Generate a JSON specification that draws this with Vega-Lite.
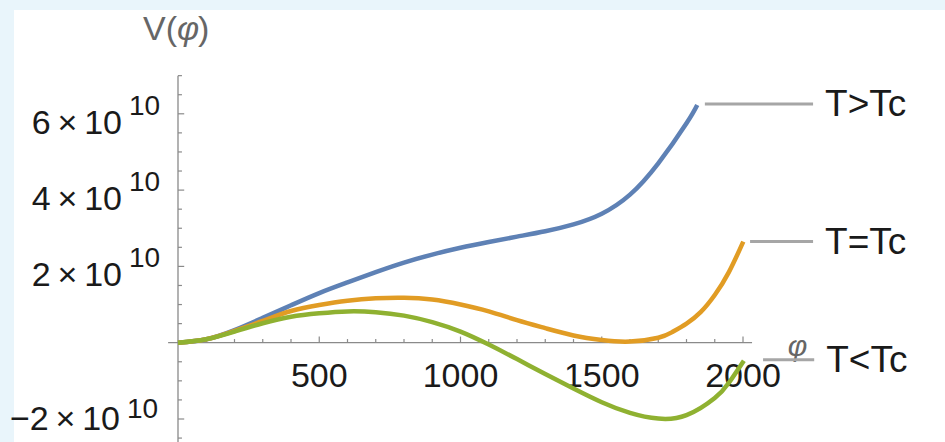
{
  "$schema": "https://vega.github.io/schema/vega-lite/v6.json",
  "width": 931,
  "height": 432,
  "autosize": {"type": "none"},
  "padding": {"left": 14, "top": 10, "right": 0, "bottom": 0},
  "background": "#e9f5fb",
  "config": {
    "view": {"fill": "white", "stroke": null},
    "font": "Liberation Sans"
  },
  "datasets": {
    "curves": [
      {"series": "T>Tc", "phi": 0, "V": 0},
      {"series": "T>Tc", "phi": 100, "V": 0.09e10},
      {"series": "T>Tc", "phi": 200, "V": 0.33e10},
      {"series": "T>Tc", "phi": 300, "V": 0.65e10},
      {"series": "T>Tc", "phi": 400, "V": 0.98e10},
      {"series": "T>Tc", "phi": 500, "V": 1.30e10},
      {"series": "T>Tc", "phi": 600, "V": 1.58e10},
      {"series": "T>Tc", "phi": 700, "V": 1.85e10},
      {"series": "T>Tc", "phi": 800, "V": 2.10e10},
      {"series": "T>Tc", "phi": 900, "V": 2.31e10},
      {"series": "T>Tc", "phi": 1000, "V": 2.49e10},
      {"series": "T>Tc", "phi": 1100, "V": 2.64e10},
      {"series": "T>Tc", "phi": 1200, "V": 2.78e10},
      {"series": "T>Tc", "phi": 1300, "V": 2.92e10},
      {"series": "T>Tc", "phi": 1400, "V": 3.10e10},
      {"series": "T>Tc", "phi": 1500, "V": 3.38e10},
      {"series": "T>Tc", "phi": 1600, "V": 3.88e10},
      {"series": "T>Tc", "phi": 1700, "V": 4.70e10},
      {"series": "T>Tc", "phi": 1800, "V": 5.75e10},
      {"series": "T>Tc", "phi": 1838, "V": 6.23e10},
      {"series": "T=Tc", "phi": 0, "V": 0},
      {"series": "T=Tc", "phi": 100, "V": 0.09e10},
      {"series": "T=Tc", "phi": 200, "V": 0.31e10},
      {"series": "T=Tc", "phi": 300, "V": 0.57e10},
      {"series": "T=Tc", "phi": 400, "V": 0.83e10},
      {"series": "T=Tc", "phi": 500, "V": 0.99e10},
      {"series": "T=Tc", "phi": 600, "V": 1.10e10},
      {"series": "T=Tc", "phi": 700, "V": 1.165e10},
      {"series": "T=Tc", "phi": 800, "V": 1.18e10},
      {"series": "T=Tc", "phi": 900, "V": 1.13e10},
      {"series": "T=Tc", "phi": 1000, "V": 1.00e10},
      {"series": "T=Tc", "phi": 1100, "V": 0.82e10},
      {"series": "T=Tc", "phi": 1200, "V": 0.59e10},
      {"series": "T=Tc", "phi": 1300, "V": 0.38e10},
      {"series": "T=Tc", "phi": 1400, "V": 0.19e10},
      {"series": "T=Tc", "phi": 1500, "V": 0.07e10},
      {"series": "T=Tc", "phi": 1600, "V": 0.03e10},
      {"series": "T=Tc", "phi": 1700, "V": 0.13e10},
      {"series": "T=Tc", "phi": 1750, "V": 0.28e10},
      {"series": "T=Tc", "phi": 1800, "V": 0.50e10},
      {"series": "T=Tc", "phi": 1850, "V": 0.80e10},
      {"series": "T=Tc", "phi": 1900, "V": 1.25e10},
      {"series": "T=Tc", "phi": 1950, "V": 1.85e10},
      {"series": "T=Tc", "phi": 2001, "V": 2.65e10},
      {"series": "T<Tc", "phi": 0, "V": 0},
      {"series": "T<Tc", "phi": 100, "V": 0.09e10},
      {"series": "T<Tc", "phi": 200, "V": 0.29e10},
      {"series": "T<Tc", "phi": 300, "V": 0.51e10},
      {"series": "T<Tc", "phi": 400, "V": 0.68e10},
      {"series": "T<Tc", "phi": 500, "V": 0.77e10},
      {"series": "T<Tc", "phi": 600, "V": 0.82e10},
      {"series": "T<Tc", "phi": 700, "V": 0.80e10},
      {"series": "T<Tc", "phi": 800, "V": 0.71e10},
      {"series": "T<Tc", "phi": 900, "V": 0.54e10},
      {"series": "T<Tc", "phi": 1000, "V": 0.29e10},
      {"series": "T<Tc", "phi": 1100, "V": -0.05e10},
      {"series": "T<Tc", "phi": 1200, "V": -0.43e10},
      {"series": "T<Tc", "phi": 1300, "V": -0.82e10},
      {"series": "T<Tc", "phi": 1400, "V": -1.20e10},
      {"series": "T<Tc", "phi": 1500, "V": -1.56e10},
      {"series": "T<Tc", "phi": 1600, "V": -1.84e10},
      {"series": "T<Tc", "phi": 1700, "V": -1.99e10},
      {"series": "T<Tc", "phi": 1800, "V": -1.90e10},
      {"series": "T<Tc", "phi": 1900, "V": -1.45e10},
      {"series": "T<Tc", "phi": 1950, "V": -1.05e10},
      {"series": "T<Tc", "phi": 2003, "V": -0.47e10}
    ],
    "xticks": [
      {"phi": 100, "major": false}, {"phi": 200, "major": false},
      {"phi": 300, "major": false}, {"phi": 400, "major": false},
      {"phi": 500, "major": true}, {"phi": 600, "major": false},
      {"phi": 700, "major": false}, {"phi": 800, "major": false},
      {"phi": 900, "major": false}, {"phi": 1000, "major": true},
      {"phi": 1100, "major": false}, {"phi": 1200, "major": false},
      {"phi": 1300, "major": false}, {"phi": 1400, "major": false},
      {"phi": 1500, "major": true}, {"phi": 1600, "major": false},
      {"phi": 1700, "major": false}, {"phi": 1800, "major": false},
      {"phi": 1900, "major": false}, {"phi": 2000, "major": true}
    ],
    "yticks": [
      {"V": -2.5e10, "major": false}, {"V": -2e10, "major": true},
      {"V": -1.5e10, "major": false}, {"V": -1e10, "major": false},
      {"V": -0.5e10, "major": false}, {"V": 0.5e10, "major": false},
      {"V": 1e10, "major": false}, {"V": 1.5e10, "major": false},
      {"V": 2e10, "major": true}, {"V": 2.5e10, "major": false},
      {"V": 3e10, "major": false}, {"V": 3.5e10, "major": false},
      {"V": 4e10, "major": true}, {"V": 4.5e10, "major": false},
      {"V": 5e10, "major": false}, {"V": 5.5e10, "major": false},
      {"V": 6e10, "major": true}, {"V": 6.5e10, "major": false},
      {"V": 7e10, "major": false}
    ],
    "ylabels": [
      {"V": 6e10, "mantissa": "6\u2009×\u200910", "power": "10"},
      {"V": 4e10, "mantissa": "4\u2009×\u200910", "power": "10"},
      {"V": 2e10, "mantissa": "2\u2009×\u200910", "power": "10"},
      {"V": -2e10, "mantissa": "−2\u2009×\u200910", "power": "10"}
    ],
    "callouts": [
      {"label": "T>Tc", "from": 1865, "to": 2248, "V": 6.26e10},
      {"label": "T=Tc", "from": 2025, "to": 2248, "V": 2.65e10},
      {"label": "T<Tc", "from": 2071, "to": 2252, "V": -0.45e10}
    ]
  },
  "layer": [
    {
      "data": {"values": [{}]},
      "mark": {"type": "rule", "color": "#8a8a8a", "strokeWidth": 1.3},
      "encoding": {
        "x": {"datum": -35, "type": "quantitative", "scale": {"domain": [-580.5, 2715], "nice": false, "zero": false}, "axis": null},
        "x2": {"datum": 2032},
        "y": {"datum": 0, "type": "quantitative", "scale": {"domain": [-2.603e10, 8.721e10], "nice": false, "zero": false}, "axis": null}
      }
    },
    {
      "data": {"values": [{}]},
      "mark": {"type": "rule", "color": "#8a8a8a", "strokeWidth": 1.3},
      "encoding": {
        "x": {"datum": 0, "type": "quantitative"},
        "y": {"datum": -2.603e10, "type": "quantitative"},
        "y2": {"datum": 7e10}
      }
    },
    {
      "data": {"name": "xticks"},
      "transform": [{"filter": "!datum.major"}],
      "mark": {"type": "rule", "color": "#8a8a8a", "strokeWidth": 1.2},
      "encoding": {
        "x": {"field": "phi", "type": "quantitative"},
        "y": {"datum": 0, "type": "quantitative"},
        "y2": {"datum": 0.095e10}
      }
    },
    {
      "data": {"name": "xticks"},
      "transform": [{"filter": "datum.major"}],
      "mark": {"type": "rule", "color": "#8a8a8a", "strokeWidth": 1.2},
      "encoding": {
        "x": {"field": "phi", "type": "quantitative"},
        "y": {"datum": 0, "type": "quantitative"},
        "y2": {"datum": 0.16e10}
      }
    },
    {
      "data": {"name": "yticks"},
      "transform": [{"filter": "!datum.major"}],
      "mark": {"type": "rule", "color": "#8a8a8a", "strokeWidth": 1.2},
      "encoding": {
        "y": {"field": "V", "type": "quantitative"},
        "x": {"datum": 0, "type": "quantitative"},
        "x2": {"datum": 14}
      }
    },
    {
      "data": {"name": "yticks"},
      "transform": [{"filter": "datum.major"}],
      "mark": {"type": "rule", "color": "#8a8a8a", "strokeWidth": 1.2},
      "encoding": {
        "y": {"field": "V", "type": "quantitative"},
        "x": {"datum": 0, "type": "quantitative"},
        "x2": {"datum": 22}
      }
    },
    {
      "data": {"name": "xticks"},
      "transform": [{"filter": "datum.major"}],
      "mark": {"type": "text", "fontSize": 34, "color": "#1a1a1a", "align": "center", "baseline": "alphabetic", "dy": 44},
      "encoding": {
        "x": {"field": "phi", "type": "quantitative"},
        "y": {"datum": 0, "type": "quantitative"},
        "text": {"field": "phi", "type": "quantitative", "format": "d"}
      }
    },
    {
      "data": {"name": "ylabels"},
      "transform": [{"filter": "datum.V > 0"}],
      "mark": {"type": "text", "fontSize": 34, "color": "#1a1a1a", "align": "right", "baseline": "alphabetic", "dx": -56, "dy": 20},
      "encoding": {
        "x": {"datum": 0, "type": "quantitative"},
        "y": {"field": "V", "type": "quantitative"},
        "text": {"field": "mantissa"}
      }
    },
    {
      "data": {"name": "ylabels"},
      "transform": [{"filter": "datum.V > 0"}],
      "mark": {"type": "text", "fontSize": 28, "color": "#1a1a1a", "align": "left", "baseline": "alphabetic", "dx": -49, "dy": 1},
      "encoding": {
        "x": {"datum": 0, "type": "quantitative"},
        "y": {"field": "V", "type": "quantitative"},
        "text": {"field": "power"}
      }
    },
    {
      "data": {"name": "ylabels"},
      "transform": [{"filter": "datum.V < 0"}],
      "mark": {"type": "text", "fontSize": 34, "color": "#1a1a1a", "align": "right", "baseline": "alphabetic", "dx": -58, "dy": 11},
      "encoding": {
        "x": {"datum": 0, "type": "quantitative"},
        "y": {"field": "V", "type": "quantitative"},
        "text": {"field": "mantissa"}
      }
    },
    {
      "data": {"name": "ylabels"},
      "transform": [{"filter": "datum.V < 0"}],
      "mark": {"type": "text", "fontSize": 28, "color": "#1a1a1a", "align": "left", "baseline": "alphabetic", "dx": -51, "dy": -1},
      "encoding": {
        "x": {"datum": 0, "type": "quantitative"},
        "y": {"field": "V", "type": "quantitative"},
        "text": {"field": "power"}
      }
    },
    {
      "data": {"values": [{"part": "V("}]},
      "mark": {"type": "text", "fontSize": 34, "color": "#666666", "align": "left", "baseline": "middle", "dx": -35},
      "encoding": {
        "x": {"datum": 0, "type": "quantitative"},
        "y": {"datum": 8.2e10, "type": "quantitative"},
        "text": {"field": "part"}
      }
    },
    {
      "data": {"values": [{"part": "φ"}]},
      "mark": {"type": "text", "fontSize": 34, "fontStyle": "italic", "color": "#666666", "align": "left", "baseline": "middle", "dx": -1},
      "encoding": {
        "x": {"datum": 0, "type": "quantitative"},
        "y": {"datum": 8.2e10, "type": "quantitative"},
        "text": {"field": "part"}
      }
    },
    {
      "data": {"values": [{"part": ")"}]},
      "mark": {"type": "text", "fontSize": 34, "color": "#666666", "align": "left", "baseline": "middle", "dx": 20},
      "encoding": {
        "x": {"datum": 0, "type": "quantitative"},
        "y": {"datum": 8.2e10, "type": "quantitative"},
        "text": {"field": "part"}
      }
    },
    {
      "data": {"values": [{"title": "φ"}]},
      "mark": {"type": "text", "fontSize": 30, "fontStyle": "italic", "color": "#666666", "align": "center", "baseline": "middle", "dy": 4},
      "encoding": {
        "x": {"datum": 2193, "type": "quantitative"},
        "y": {"datum": 0, "type": "quantitative"},
        "text": {"field": "title"}
      }
    },
    {
      "data": {"name": "callouts"},
      "mark": {"type": "rule", "color": "#a6a6a6", "strokeWidth": 3},
      "encoding": {
        "x": {"field": "from", "type": "quantitative"},
        "x2": {"field": "to"},
        "y": {"field": "V", "type": "quantitative"}
      }
    },
    {
      "data": {"name": "callouts"},
      "mark": {"type": "text", "fontSize": 37, "color": "#1a1a1a", "align": "left", "baseline": "middle", "dx": 12, "dy": 1},
      "encoding": {
        "x": {"field": "to", "type": "quantitative"},
        "y": {"field": "V", "type": "quantitative"},
        "text": {"field": "label"}
      }
    },
    {
      "data": {"name": "curves"},
      "mark": {"type": "line", "strokeWidth": 4.5, "interpolate": "natural"},
      "encoding": {
        "x": {"field": "phi", "type": "quantitative"},
        "y": {"field": "V", "type": "quantitative"},
        "color": {
          "field": "series",
          "type": "nominal",
          "scale": {"domain": ["T>Tc", "T=Tc", "T<Tc"], "range": ["#5e81b5", "#e19c24", "#8fb131"]},
          "legend": null
        }
      }
    }
  ]
}
